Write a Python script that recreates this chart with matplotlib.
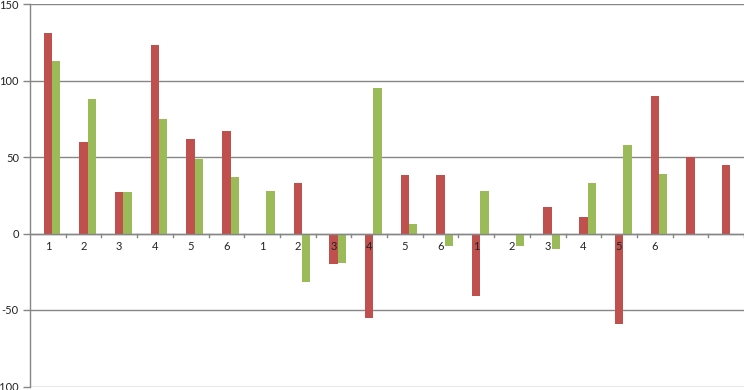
import matplotlib
matplotlib.use('Agg')
import matplotlib.pyplot as plt
import numpy as np

# etiquetas de categoria (tres bloques de 1-6 y dos vacias al final)
etiquetas = ['1', '2', '3', '4', '5', '6',
             '1', '2', '3', '4', '5', '6',
             '1', '2', '3', '4', '5', '6',
             '', '']

# la primera serie (azul) esta vacia en el original
serie_azul = [0] * 20
serie_roja = [131, 60, 27, 123, 62, 67,
              0, 33, -20, -55, 38, 38,
              -41, 0, 17, 11, -59, 90,
              50, 45]
serie_verde = [113, 88, 27, 75, 49, 37,
               28, -32, -19, 95, 6, -8,
               28, -8, -10, 33, 58, 39,
               0, 0]

plt.rcParams['font.family'] = ['Lato', 'DejaVu Sans']

fig = plt.figure(figsize=(7.44, 3.90), dpi=100)
ax = fig.add_axes([30 / 744, 3.5 / 390, 714 / 744, 382.5 / 390])

x = np.arange(len(etiquetas))
ancho = 0.233

ax.bar(x - ancho, serie_azul, ancho, color='#4F81BD', zorder=2)
ax.bar(x, serie_roja, ancho, color='#C0504D', zorder=2)
ax.bar(x + ancho, serie_verde, ancho, color='#9BBB59', zorder=2)

ax.set_xlim(-0.5, len(etiquetas) - 0.5)
ax.set_ylim(-100, 150)
ax.set_yticks([-100, -50, 0, 50, 100, 150])
ax.set_yticklabels(['-100', '-50', '0', '50', '100', '150'])
ax.yaxis.grid(True, color='#868686', linewidth=1.0, zorder=0)
ax.tick_params(axis='y', length=5, width=1, color='#868686',
               labelsize=8, labelcolor='#222222', pad=3)

# eje x en cero con marcas entre categorias
ax.set_xticks([])
ax.axhline(0, color='#868686', linewidth=1.0, zorder=3)
for b in np.arange(0.5, len(etiquetas), 1.0):
    ax.plot([b, b], [0, -2.6], color='#868686', linewidth=1.0, zorder=3,
            clip_on=False)
for xi, et in zip(x, etiquetas):
    ax.text(xi, -5, et, ha='center', va='top', fontsize=8,
            color='#222222', zorder=4)

for lado in ['top', 'right', 'bottom']:
    ax.spines[lado].set_visible(False)
ax.spines['left'].set_color('#868686')
ax.spines['left'].set_linewidth(1.0)

fig.savefig('out.png', dpi=100)
